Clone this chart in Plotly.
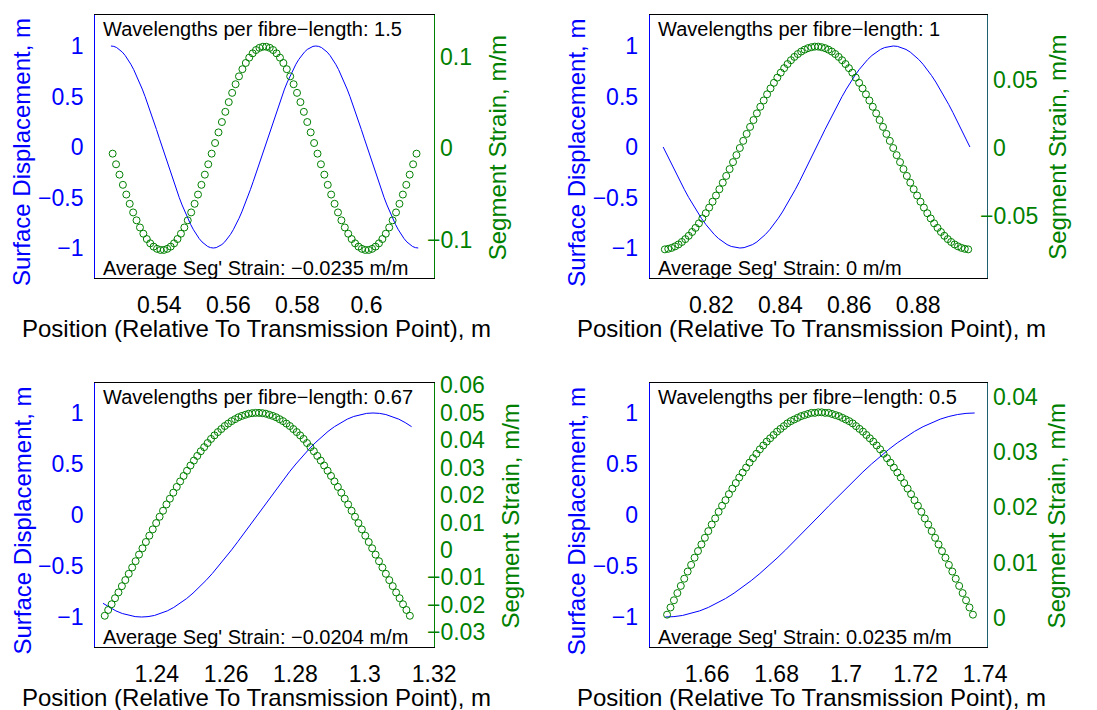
import numpy as np
import plotly.graph_objects as go

# ---- fibre geometry (m) ----
fibre_start = [0.526, 0.806, 1.2245, 1.648]
fibre_length = 0.089

wavelength_labels = ["1.5", "1", "0.67", "0.5"]
avg_strain_labels = ["\u22120.0235", "0", "\u22120.0204", "0.0235"]

# ---- surface displacement along the fibre (m), evenly spaced samples ----
disp_1 = [1.0, 0.9962, 0.9848, 0.9659, 0.9397, 0.9063, 0.866, 0.8192, 0.766, 0.7071, 0.6428, 0.5736, 0.5, 0.4226, 0.342, 0.2588, 0.1736, 0.0872, 0.0,
          -0.0872, -0.1736, -0.2588, -0.342, -0.4226, -0.5, -0.5736, -0.6428, -0.7071, -0.766, -0.8192, -0.866, -0.9063, -0.9397, -0.9659, -0.9848, -0.9962, -1.0,
          -0.9962, -0.9848, -0.9659, -0.9397, -0.9063, -0.866, -0.8192, -0.766, -0.7071, -0.6428, -0.5736, -0.5, -0.4226, -0.342, -0.2588, -0.1736, -0.0872, 0.0,
          0.0872, 0.1736, 0.2588, 0.342, 0.4226, 0.5, 0.5736, 0.6428, 0.7071, 0.766, 0.8192, 0.866, 0.9063, 0.9397, 0.9659, 0.9848, 0.9962, 1.0,
          0.9962, 0.9848, 0.9659, 0.9397, 0.9063, 0.866, 0.8192, 0.766, 0.7071, 0.6428, 0.5736, 0.5, 0.4226, 0.342, 0.2588, 0.1736, 0.0872, 0.0,
          -0.0872, -0.1736, -0.2588, -0.342, -0.4226, -0.5, -0.5736, -0.6428, -0.7071, -0.766, -0.8192, -0.866, -0.9063, -0.9397, -0.9659, -0.9848, -0.9962, -1.0]

disp_2 = [0.0, -0.0872, -0.1736, -0.2588, -0.342, -0.4226, -0.5, -0.5736, -0.6428, -0.7071, -0.766, -0.8192, -0.866, -0.9063, -0.9397, -0.9659, -0.9848, -0.9962, -1.0,
          -0.9962, -0.9848, -0.9659, -0.9397, -0.9063, -0.866, -0.8192, -0.766, -0.7071, -0.6428, -0.5736, -0.5, -0.4226, -0.342, -0.2588, -0.1736, -0.0872, 0.0,
          0.0872, 0.1736, 0.2588, 0.342, 0.4226, 0.5, 0.5736, 0.6428, 0.7071, 0.766, 0.8192, 0.866, 0.9063, 0.9397, 0.9659, 0.9848, 0.9962, 1.0,
          0.9962, 0.9848, 0.9659, 0.9397, 0.9063, 0.866, 0.8192, 0.766, 0.7071, 0.6428, 0.5736, 0.5, 0.4226, 0.342, 0.2588, 0.1736, 0.0872, 0.0]

disp_3 = [-0.866, -0.9063, -0.9397, -0.9659, -0.9848, -0.9962, -1.0, -0.9962, -0.9848, -0.9659, -0.9397, -0.9063, -0.866, -0.8192, -0.766, -0.7071,
          -0.6428, -0.5736, -0.5, -0.4226, -0.342, -0.2588, -0.1736, -0.0872, 0.0, 0.0872, 0.1736, 0.2588, 0.342, 0.4226, 0.5, 0.5736, 0.6428,
          0.7071, 0.766, 0.8192, 0.866, 0.9063, 0.9397, 0.9659, 0.9848, 0.9962, 1.0, 0.9962, 0.9848, 0.9659, 0.9397, 0.9063, 0.866]

disp_4 = [-1.0, -0.9962, -0.9848, -0.9659, -0.9397, -0.9063, -0.866, -0.8192, -0.766, -0.7071, -0.6428, -0.5736, -0.5, -0.4226, -0.342, -0.2588, -0.1736, -0.0872, 0.0,
          0.0872, 0.1736, 0.2588, 0.342, 0.4226, 0.5, 0.5736, 0.6428, 0.7071, 0.766, 0.8192, 0.866, 0.9063, 0.9397, 0.9659, 0.9848, 0.9962, 1.0]

# ---- segment strain (m/m), one value per fibre segment ----
strain_1 = [-0.0058, -0.0174, -0.0287, -0.0398, -0.0504, -0.0605, -0.0699, -0.0785, -0.0863, -0.0931, -0.0989, -0.1036, -0.1072, -0.1096, -0.1108,
            -0.1108, -0.1096, -0.1072, -0.1036, -0.0989, -0.0931, -0.0863, -0.0785, -0.0699, -0.0605, -0.0504, -0.0398, -0.0287, -0.0174, -0.0058,
            0.0058, 0.0174, 0.0287, 0.0398, 0.0504, 0.0605, 0.0699, 0.0785, 0.0863, 0.0931, 0.0989, 0.1036, 0.1072, 0.1096, 0.1108,
            0.1108, 0.1096, 0.1072, 0.1036, 0.0989, 0.0931, 0.0863, 0.0785, 0.0699, 0.0605, 0.0504, 0.0398, 0.0287, 0.0174, 0.0058,
            -0.0058, -0.0174, -0.0287, -0.0398, -0.0504, -0.0605, -0.0699, -0.0785, -0.0863, -0.0931, -0.0989, -0.1036, -0.1072, -0.1096, -0.1108,
            -0.1108, -0.1096, -0.1072, -0.1036, -0.0989, -0.0931, -0.0863, -0.0785, -0.0699, -0.0605, -0.0504, -0.0398, -0.0287, -0.0174, -0.0058]

strain_2 = [-0.0740, -0.0736, -0.0729, -0.0718, -0.0704, -0.0686, -0.0665, -0.0641, -0.0613, -0.0583, -0.0550, -0.0514, -0.0476, -0.0435, -0.0392, -0.0347,
            -0.0301, -0.0253, -0.0204, -0.0154, -0.0103, -0.0052, 0.0,
            0.0052, 0.0103, 0.0154, 0.0204, 0.0253, 0.0301, 0.0347, 0.0392, 0.0435, 0.0476, 0.0514, 0.0550, 0.0583, 0.0613, 0.0641, 0.0665,
            0.0686, 0.0704, 0.0718, 0.0729, 0.0736, 0.0740,
            0.0740, 0.0736, 0.0729, 0.0718, 0.0704, 0.0686, 0.0665, 0.0641, 0.0613, 0.0583, 0.0550, 0.0514, 0.0476, 0.0435, 0.0392, 0.0347,
            0.0301, 0.0253, 0.0204, 0.0154, 0.0103, 0.0052, 0.0,
            -0.0052, -0.0103, -0.0154, -0.0204, -0.0253, -0.0301, -0.0347, -0.0392, -0.0435, -0.0476, -0.0514, -0.0550, -0.0583, -0.0613, -0.0641, -0.0665,
            -0.0686, -0.0704, -0.0718, -0.0729, -0.0736, -0.0740]

strain_3 = [-0.0240, -0.0219, -0.0198, -0.0176, -0.0155, -0.0132, -0.0110, -0.0087, -0.0064, -0.0041, -0.0017, 0.0006, 0.0029, 0.0052, 0.0075,
            0.0098, 0.0121, 0.0143, 0.0166, 0.0187, 0.0209, 0.0230, 0.0250, 0.0270, 0.0289, 0.0308, 0.0326, 0.0343, 0.0360, 0.0375, 0.0390,
            0.0405, 0.0418, 0.0430, 0.0441, 0.0452, 0.0461, 0.0470, 0.0477, 0.0484, 0.0489, 0.0493, 0.0497, 0.0499, 0.0500,
            0.0500, 0.0499, 0.0497, 0.0493, 0.0489, 0.0484, 0.0477, 0.0470, 0.0461, 0.0452, 0.0441, 0.0430, 0.0418, 0.0405, 0.0390,
            0.0375, 0.0360, 0.0343, 0.0326, 0.0308, 0.0289, 0.0270, 0.0250, 0.0230, 0.0209, 0.0187, 0.0166, 0.0143, 0.0121, 0.0098,
            0.0075, 0.0052, 0.0029, 0.0006, -0.0017, -0.0041, -0.0064, -0.0087, -0.0110, -0.0132, -0.0155, -0.0176, -0.0198, -0.0219, -0.0240]

strain_4 = [0.0006, 0.0019, 0.0032, 0.0045, 0.0058, 0.0071, 0.0084, 0.0096, 0.0109, 0.0121, 0.0133, 0.0145, 0.0157, 0.0169, 0.0180,
            0.0192, 0.0203, 0.0213, 0.0224, 0.0234, 0.0244, 0.0254, 0.0263, 0.0272, 0.0281, 0.0289, 0.0297, 0.0305, 0.0312, 0.0319,
            0.0325, 0.0331, 0.0337, 0.0342, 0.0347, 0.0352, 0.0356, 0.0359, 0.0362, 0.0365, 0.0367, 0.0369, 0.0371, 0.0371, 0.0372,
            0.0372, 0.0371, 0.0371, 0.0369, 0.0367, 0.0365, 0.0362, 0.0359, 0.0356, 0.0352, 0.0347, 0.0342, 0.0337, 0.0331, 0.0325,
            0.0319, 0.0312, 0.0305, 0.0297, 0.0289, 0.0281, 0.0272, 0.0263, 0.0254, 0.0244, 0.0234, 0.0224, 0.0213, 0.0203, 0.0192,
            0.0180, 0.0169, 0.0157, 0.0145, 0.0133, 0.0121, 0.0109, 0.0096, 0.0084, 0.0071, 0.0058, 0.0045, 0.0032, 0.0019, 0.0006]

# ---- tick labels ----
x_ticks = [[0.54, 0.56, 0.58, 0.6], [0.82, 0.84, 0.86, 0.88],
           [1.24, 1.26, 1.28, 1.3, 1.32], [1.66, 1.68, 1.7, 1.72, 1.74]]
x_ticktext = [["0.54", "0.56", "0.58", "0.6"], ["0.82", "0.84", "0.86", "0.88"],
              ["1.24", "1.26", "1.28", "1.3", "1.32"], ["1.66", "1.68", "1.7", "1.72", "1.74"]]
disp_ticks = [-1, -0.5, 0, 0.5, 1]
disp_ticktext = ["\u22121", "\u22120.5", "0", "0.5", "1"]
strain_ticks = [[-0.1, 0, 0.1], [-0.05, 0, 0.05],
                [-0.03, -0.02, -0.01, 0, 0.01, 0.02, 0.03, 0.04, 0.05, 0.06],
                [0, 0.01, 0.02, 0.03, 0.04]]
strain_ticktext = [["\u22120.1", "0", "0.1"], ["\u22120.05", "0", "0.05"],
                   ["\u22120.03", "\u22120.02", "\u22120.01", "0", "0.01", "0.02", "0.03", "0.04", "0.05", "0.06"],
                   ["0", "0.01", "0.02", "0.03", "0.04"]]

displacements = [disp_1, disp_2, disp_3, disp_4]
strains = [strain_1, strain_2, strain_3, strain_4]

# ---- layout (pixels) ----
W, H = 1097, 710
FONT = "Liberation Sans, Arial, sans-serif"
BLUE = "#0000ff"
GREEN = "#008000"
TICK_SIZE = 23
TITLE_SIZE = 24
NOTE_SIZE = 20
MINUS_W = 0.584 * TICK_SIZE  # width of the minus glyph, left hanging on the right axis

# plot box: left, top, right, bottom
boxes = [(97, 15, 443, 278), (663, 15, 1007, 278), (97, 383, 443, 647), (663, 383, 1007, 647)]
x_ranges = [[0.5214, 0.6196], [0.8021, 0.8999], [1.2222, 1.32], [1.6435, 1.7405]]
disp_ranges = [[-1.297, 1.307], [-1.297, 1.307], [-1.294, 1.294], [-1.294, 1.294]]
strain_ranges = [[-0.1414, 0.1454], [-0.0949, 0.0971], [-0.0354, 0.0609], [-0.00525, 0.0425]]
right_line = [GREEN, "#1f6070", GREEN, "#1f6070"]
right_title_dx = [65, 72, 77, 71]


def fx(px):
    return px / W


def fy(py):
    return 1 - py / H


fig = go.Figure()
annotations = []
layout = {}

for i in range(4):
    xa = "x" if i == 0 else f"x{i + 1}"
    yl = "y" if i == 0 else f"y{2 * i + 1}"
    yr = f"y{2 * i + 2}"
    start = fibre_start[i]
    disp = displacements[i]
    strain = strains[i]

    x_disp = np.linspace(start, start + fibre_length, len(disp))
    seg = fibre_length / len(strain)
    x_strain = start + seg * (np.arange(len(strain)) + 0.5)

    fig.add_trace(go.Scatter(x=x_disp, y=disp, xaxis=xa, yaxis=yl, mode="lines",
                             line=dict(color=BLUE, width=1), showlegend=False, hoverinfo="skip"))
    fig.add_trace(go.Scatter(x=x_strain, y=strain, xaxis=xa, yaxis=yr, mode="markers",
                             marker=dict(symbol="circle-open", size=7, color=GREEN, line=dict(width=1)),
                             showlegend=False, hoverinfo="skip"))

    l, t, r, b = boxes[i]
    xkey = "xaxis" if i == 0 else f"xaxis{i + 1}"
    ylkey = "yaxis" if i == 0 else f"yaxis{2 * i + 1}"
    yrkey = f"yaxis{2 * i + 2}"

    layout[xkey] = dict(domain=[fx(l), fx(r)], anchor=yl, range=x_ranges[i],
                        tickvals=x_ticks[i], ticktext=x_ticktext[i], ticks="",
                        showline=True, linecolor="black", linewidth=1, mirror=True,
                        showgrid=False, zeroline=False, ticklabelstandoff=6,
                        tickfont=dict(family=FONT, size=TICK_SIZE, color="black"))
    layout[ylkey] = dict(domain=[fy(b), fy(t)], anchor=xa, range=disp_ranges[i],
                         tickvals=disp_ticks, ticktext=disp_ticktext, ticks="",
                         showline=True, linecolor=BLUE, linewidth=1,
                         showgrid=False, zeroline=False, ticklabelstandoff=6,
                         tickfont=dict(family=FONT, size=TICK_SIZE, color=BLUE))
    layout[yrkey] = dict(overlaying=yl, side="right", anchor=xa, range=strain_ranges[i],
                         tickvals=strain_ticks[i], ticks="", showticklabels=False,
                         showline=True, linecolor=right_line[i], linewidth=1,
                         showgrid=False, zeroline=False)

    # right-axis tick labels: digits aligned, minus sign hanging to the left
    for val, txt in zip(strain_ticks[i], strain_ticktext[i]):
        x0 = r + 5 - (MINUS_W if txt.startswith("\u2212") else 0)
        annotations.append(dict(text=txt, xref="paper", yref=yr, x=fx(x0), y=val, xanchor="left",
                                yanchor="middle", showarrow=False, borderpad=0,
                                font=dict(family=FONT, size=TICK_SIZE, color=GREEN)))

    # axis titles
    annotations.append(dict(text="Position (Relative To Transmission Point), m", xref="paper", yref="paper",
                            x=fx(l + 165), y=fy(b + 50), xanchor="center", yanchor="middle", showarrow=False,
                            font=dict(family=FONT, size=TITLE_SIZE, color="black")))
    annotations.append(dict(text="Surface Displacement, m", xref="paper", yref="paper",
                            x=fx(l - 75), y=fy((t + b) / 2 + 6), xanchor="center", yanchor="middle",
                            textangle=-90, showarrow=False, font=dict(family=FONT, size=TITLE_SIZE, color=BLUE)))
    annotations.append(dict(text="Segment Strain, m/m", xref="paper", yref="paper",
                            x=fx(r + right_title_dx[i]), y=fy((t + b) / 2 + 1), xanchor="center",
                            yanchor="middle", textangle=-90, showarrow=False,
                            font=dict(family=FONT, size=TITLE_SIZE, color=GREEN)))
    # in-plot notes
    annotations.append(dict(text=f"Wavelengths per fibre\u2212length: {wavelength_labels[i]}", xref="paper",
                            yref="paper", x=fx(l + 6), y=fy(t + 14), xanchor="left", yanchor="middle",
                            showarrow=False, font=dict(family=FONT, size=NOTE_SIZE, color="black")))
    annotations.append(dict(text=f"Average Seg' Strain: {avg_strain_labels[i]} m/m", xref="paper",
                            yref="paper", x=fx(l + 6), y=fy(b - 10), xanchor="left", yanchor="middle",
                            showarrow=False, font=dict(family=FONT, size=NOTE_SIZE, color="black")))

fig.update_layout(width=W, height=H, autosize=False, margin=dict(l=0, r=0, t=0, b=0),
                  paper_bgcolor="white", plot_bgcolor="white", annotations=annotations,
                  font=dict(family=FONT), **layout)

fig.write_html("out.html")
